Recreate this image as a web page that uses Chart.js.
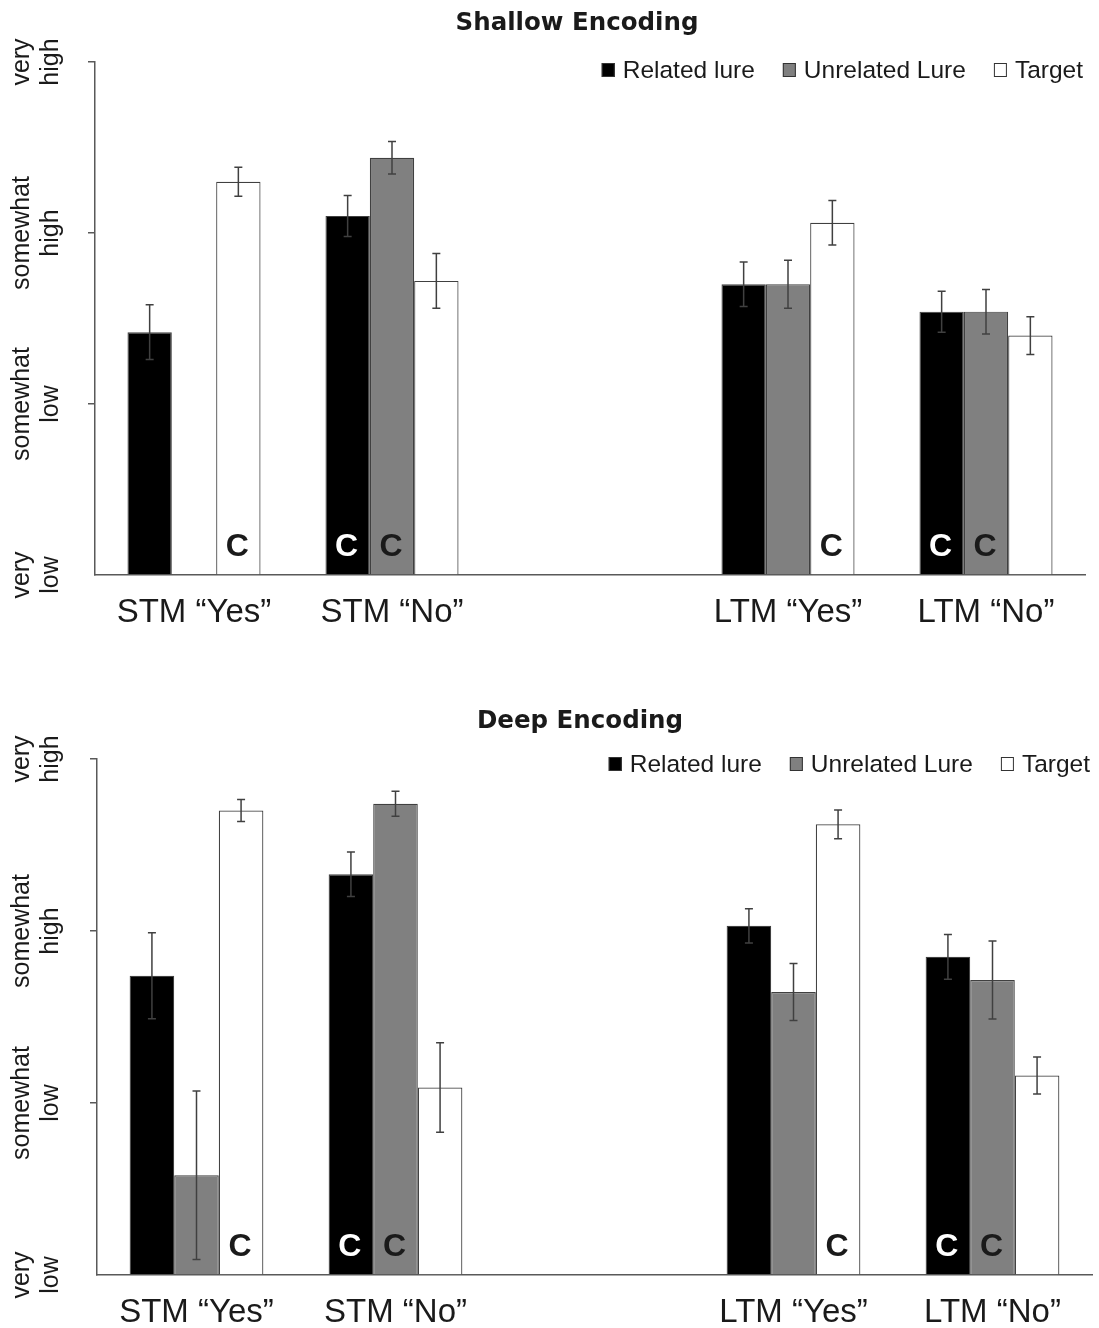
<!DOCTYPE html>
<html>
<head>
<meta charset="utf-8">
<title>Shallow and Deep Encoding</title>
<script src="https://cdn.jsdelivr.net/npm/chart.js@4.4.1/dist/chart.umd.min.js"></script>
<style>
  html, body { margin: 0; padding: 0; background: #fff; }
  .panel { position: relative; width: 1099px; }
  #panel-shallow { height: 650px; }
  #panel-deep { height: 678px; }
</style>
</head>
<body>
<div class="panel" id="panel-shallow"><canvas id="shallow"></canvas></div>
<div class="panel" id="panel-deep"><canvas id="deep"></canvas></div>
<script>
// ─── data ──────────────────────────────────────────────────────────────
const categories = ['STM “Yes”', 'STM “No”', '', 'LTM “Yes”', 'LTM “No”'];
const levelLabels = [['very', 'low'], ['somewhat', 'low'], ['somewhat', 'high'], ['very', 'high']];
const seriesNames = ['Related lure', 'Unrelated Lure', 'Target'];

// 0 = very low … 3 = very high
const shallowRelated   = [1.42, 2.10, null, 1.70, 1.54];
const shallowUnrelated = [null, 2.44, null, 1.70, 1.54];
const shallowTarget    = [2.30, 1.72, null, 2.06, 1.40];
const shallowRelatedErr   = [0.16, 0.12, null, 0.13, 0.12];
const shallowUnrelatedErr = [null, 0.095, null, 0.14, 0.13];
const shallowTargetErr    = [0.085, 0.16, null, 0.13, 0.11];

const deepRelated   = [1.74, 2.33, null, 2.03, 1.85];
const deepUnrelated = [0.58, 2.74, null, 1.645, 1.715];
const deepTarget    = [2.70, 1.09, null, 2.62, 1.16];
const deepRelatedErr   = [0.25, 0.13, null, 0.10, 0.13];
const deepUnrelatedErr = [0.49, 0.073, null, 0.166, 0.227];
const deepTargetErr    = [0.064, 0.26, null, 0.084, 0.108];

// "C" marks on bars (same in both panels)
const relatedMarks   = [false, true, false, false, true];
const unrelatedMarks = [false, true, false, false, true];
const targetMarks    = [true, false, false, true, false];

// ─── plugins ───────────────────────────────────────────────────────────
const FONT = "'Liberation Sans', Arial, sans-serif";
const INK = '#1a1a1a';
const AXIS = '#595959';

const errorBars = {
  id: 'errorBars',
  afterDatasetsDraw(chart) {
    const ctx = chart.ctx, y = chart.scales.y;
    ctx.save();
    ctx.strokeStyle = '#404040';
    ctx.lineWidth = 1.5;
    chart.data.datasets.forEach((ds, i) => {
      chart.getDatasetMeta(i).data.forEach((bar, j) => {
        const v = ds.data[j], e = ds.errors[j];
        if (v == null || e == null) return;
        const y1 = y.getPixelForValue(v + e), y2 = y.getPixelForValue(v - e);
        ctx.beginPath();
        ctx.moveTo(bar.x, y1); ctx.lineTo(bar.x, y2);
        ctx.moveTo(bar.x - 4, y1); ctx.lineTo(bar.x + 4, y1);
        ctx.moveTo(bar.x - 4, y2); ctx.lineTo(bar.x + 4, y2);
        ctx.stroke();
      });
    });
    ctx.restore();
  }
};

const correctMarks = {
  id: 'correctMarks',
  afterDatasetsDraw(chart) {
    const ctx = chart.ctx, y = chart.scales.y;
    ctx.save();
    ctx.font = 'bold 32px ' + FONT;
    ctx.textAlign = 'center';
    ctx.textBaseline = 'alphabetic';
    chart.data.datasets.forEach((ds, i) => {
      chart.getDatasetMeta(i).data.forEach((bar, j) => {
        if (!ds.marks[j]) return;
        ctx.fillStyle = ds.markColor;
        ctx.fillText('C', bar.x - 1, y.getPixelForValue(0) - 19);
      });
    });
    ctx.restore();
  }
};

const levelAxisLabels = {
  id: 'levelAxisLabels',
  afterDraw(chart) {
    const ctx = chart.ctx, y = chart.scales.y;
    ctx.save();
    ctx.font = '25px ' + FONT;
    ctx.fillStyle = INK;
    ctx.textAlign = 'center';
    ctx.textBaseline = 'alphabetic';
    levelLabels.forEach((lines, k) => {
      const py = y.getPixelForValue(k);
      lines.forEach((txt, n) => {
        ctx.save();
        ctx.translate(n === 0 ? 29 : 58, py);
        ctx.rotate(-Math.PI / 2);
        ctx.fillText(txt, 0, 0);
        ctx.restore();
      });
    });
    ctx.restore();
  }
};

const boxLegend = {
  id: 'boxLegend',
  afterDraw(chart, args, opts) {
    const ctx = chart.ctx, area = chart.chartArea;
    const base = area.top + opts.baseline;
    ctx.save();
    ctx.font = '24.5px ' + FONT;
    ctx.textBaseline = 'alphabetic';
    let x = area.right - 2;
    for (let i = chart.data.datasets.length - 1; i >= 0; i--) {
      const ds = chart.data.datasets[i];
      const w = ctx.measureText(ds.label).width;
      x -= w;
      ctx.fillStyle = INK;
      ctx.fillText(ds.label, x, base);
      x -= 8 + 13;
      ctx.fillStyle = ds.backgroundColor;
      ctx.fillRect(x, base - 15, 13, 14);
      ctx.strokeStyle = '#333';
      ctx.lineWidth = 1;
      ctx.strokeRect(x + 0.5, base - 14.5, 12, 13);
      x -= 28;
    }
    ctx.restore();
  }
};

// ─── panel builder ─────────────────────────────────────────────────────
function makePanel(id, title, rel, unrel, targ, relErr, unrelErr, targErr, geo) {
  const barStyle = { borderColor: '#404040', borderWidth: 1.2, barPercentage: 1.0, categoryPercentage: 0.672 };
  return new Chart(document.getElementById(id), {
    type: 'bar',
    data: {
      labels: categories,
      datasets: [
        Object.assign({ label: seriesNames[0], data: rel, errors: relErr, marks: relatedMarks,
          backgroundColor: '#000000', markColor: '#ffffff' }, barStyle),
        Object.assign({ label: seriesNames[1], data: unrel, errors: unrelErr, marks: unrelatedMarks,
          backgroundColor: '#808080', markColor: INK }, barStyle),
        Object.assign({ label: seriesNames[2], data: targ, errors: targErr, marks: targetMarks,
          backgroundColor: '#ffffff', markColor: INK }, barStyle),
      ],
    },
    options: {
      responsive: true,
      maintainAspectRatio: false,
      animation: false,
      events: [],
      layout: { padding: { left: geo.padLeft, right: geo.padRight, top: 0, bottom: 0 } },
      plugins: {
        legend: { display: false },
        tooltip: { enabled: false },
        title: {
          display: true,
          text: title,
          color: INK,
          font: { family: "'DejaVu Sans', sans-serif", weight: 'bold', size: 24.5, lineHeight: 1.2 },
          padding: { top: geo.titleTop, bottom: geo.titleBottom },
        },
        boxLegend: { baseline: geo.legendBaseline },
      },
      scales: {
        x: {
          offset: true,
          grid: { display: false },
          border: { display: true, color: AXIS, width: 1.5 },
          ticks: { font: { family: FONT, size: 33 }, color: INK, padding: 10, maxRotation: 0, autoSkip: false },
          afterFit(s) { s.height = geo.xHeight; },
        },
        y: {
          min: 0,
          max: 3,
          ticks: { display: false, stepSize: 1 },
          grid: {
            drawOnChartArea: false, drawTicks: true, tickLength: 7, lineWidth: 1.5,
            color: (c) => (c.tick && c.tick.value === 0 ? 'rgba(0,0,0,0)' : AXIS),
          },
          border: { display: true, color: AXIS, width: 1.5 },
          afterFit(s) { s.width = geo.yWidth; },
        },
      },
    },
    plugins: [errorBars, correctMarks, levelAxisLabels, boxLegend],
  });
}

makePanel('shallow', 'Shallow Encoding',
  shallowRelated, shallowUnrelated, shallowTarget,
  shallowRelatedErr, shallowUnrelatedErr, shallowTargetErr,
  { padLeft: 69, padRight: 14, yWidth: 26, xHeight: 75, titleTop: 9, titleBottom: 23.6, legendBaseline: 16 });

makePanel('deep', 'Deep Encoding',
  deepRelated, deepUnrelated, deepTarget,
  deepRelatedErr, deepUnrelatedErr, deepTargetErr,
  { padLeft: 68, padRight: 7, yWidth: 29, xHeight: 53, titleTop: 56.5, titleBottom: 23.1, legendBaseline: 13 });
</script>
</body>
</html>
